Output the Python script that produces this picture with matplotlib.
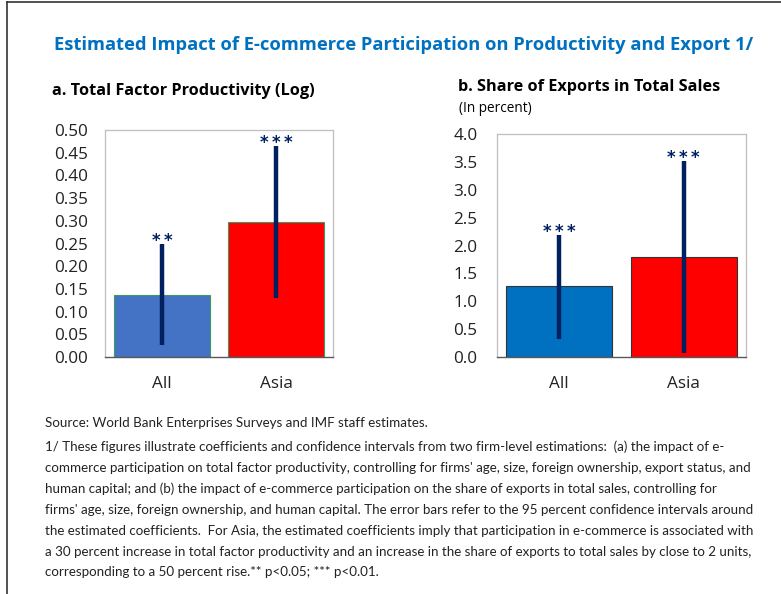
import matplotlib.pyplot as plt
from matplotlib.lines import Line2D

plt.rcParams['font.family'] = ['Open Sans', 'DejaVu Sans']

# --- data ---
regions = ["All", "Asia"]

tfp_coef = [0.137, 0.297]
tfp_low = [0.026, 0.131]
tfp_high = [0.248, 0.465]
tfp_stars = ["**", "***"]

exp_coef = [1.27, 1.80]
exp_low = [0.32, 0.07]
exp_high = [2.18, 3.52]
exp_stars = ["***", "***"]

navy = "#002060"
blue_title = "#0070C0"

fig = plt.figure(figsize=(7.81, 5.94), dpi=100)
W, H = 781, 594


def px_axes(x0, y0, x1, y1):
    return fig.add_axes([x0 / W, 1 - y1 / H, (x1 - x0) / W, (y1 - y0) / H])


def draw_panel(ax, coef, low, high, stars, colors, edge, ylim, yticks, fmt, pad):
    x = list(range(len(regions)))
    ax.bar(x, coef, width=0.85, color=colors, edgecolor=edge, linewidth=0.8, zorder=2)
    for xi, lo, hi, s in zip(x, low, high, stars):
        ax.plot([xi, xi], [lo, hi], color=navy, linewidth=3.2, solid_capstyle="butt", zorder=3)
        # thin spaces between the asterisks, like the original
        ax.annotate("\u2009".join(s), (xi, hi), xytext=(0, -1.3), textcoords="offset points",
                    ha="center", va="baseline", color=navy, fontsize=12,
                    fontweight="bold", family="DejaVu Sans")
    ax.set_xlim(-0.5, 1.5)
    ax.set_ylim(*ylim)
    ax.set_yticks(yticks)
    ax.set_yticklabels([fmt.format(v) for v in yticks])
    ax.set_xticks(x)
    ax.set_xticklabels(regions)
    ax.tick_params(axis="both", length=0, labelsize=12.3, colors="#222222")
    ax.tick_params(axis="y", pad=pad)
    ax.tick_params(axis="x", pad=13.5)
    for side in ["top", "right", "left"]:
        ax.spines[side].set_color("#BFBFBF")
        ax.spines[side].set_linewidth(0.9)
    ax.spines["bottom"].set_color("#595959")
    ax.spines["bottom"].set_linewidth(1.0)


# --- panel a ---
ax1 = px_axes(105, 130, 333, 357)
draw_panel(ax1, tfp_coef, tfp_low, tfp_high, tfp_stars,
           ["#4472C4", "#FF0000"], "#3C9A5F", (0, 0.5),
           [i * 0.05 for i in range(11)], "{:.2f}", 12)

# --- panel b ---
ax2 = px_axes(497, 134, 746, 357)
draw_panel(ax2, exp_coef, exp_low, exp_high, exp_stars,
           ["#0070C0", "#FF0000"], "#333333", (0, 4.0),
           [i * 0.5 for i in range(9)], "{:.1f}", 14)

# --- titles ---
fig.text(404 / W, 1 - 45 / H,
         "Estimated Impact of E-commerce Participation on Productivity and Export 1/",
         ha="center", va="center", color=blue_title, fontsize=13.2, fontweight="bold")
fig.text(52 / W, 1 - 91 / H, "a. Total Factor Productivity (Log)",
         ha="left", va="center", fontsize=11.7, fontweight="bold")
fig.text(458 / W, 1 - 87 / H, "b. Share of Exports in Total Sales",
         ha="left", va="center", fontsize=11.7, fontweight="bold")
fig.text(459 / W, 1 - 108 / H, "(In percent)", ha="left", va="center", fontsize=9.8)

# --- footnotes ---
notes = [
    "Source: World Bank Enterprises Surveys and IMF staff estimates.",
    "1/ These figures illustrate coefficients and confidence intervals from two firm-level estimations:  (a) the impact of e-",
    "commerce participation on total factor productivity, controlling for firms' age, size, foreign ownership, export status, and",
    "human capital; and (b) the impact of e-commerce participation on the share of exports in total sales, controlling for",
    "firms' age, size, foreign ownership, and human capital. The error bars refer to the 95 percent confidence intervals around",
    "the estimated coefficients.  For Asia, the estimated coefficients imply that participation in e-commerce is associated with",
    "a 30 percent increase in total factor productivity and an increase in the share of exports to total sales by close to 2 units,",
    "corresponding to a 50 percent rise.** p<0.05; *** p<0.01.",
]
note_y = [423, 447, 468, 489, 510, 531, 552, 572]
for t, y in zip(notes, note_y):
    fig.text(45 / W, 1 - y / H, t, ha="left", va="center", fontsize=9.65,
             family=["Lato", "DejaVu Sans"], color="#222222")

# --- frame lines (left and top) ---
fig.add_artist(Line2D([7.5 / W, 7.5 / W], [0, 1 - 1.5 / H], transform=fig.transFigure,
                      color="#333333", linewidth=1.2))
fig.add_artist(Line2D([7.5 / W, 1], [1 - 1.5 / H, 1 - 1.5 / H], transform=fig.transFigure,
                      color="#333333", linewidth=1.2))

fig.savefig("out.png", dpi=100)
